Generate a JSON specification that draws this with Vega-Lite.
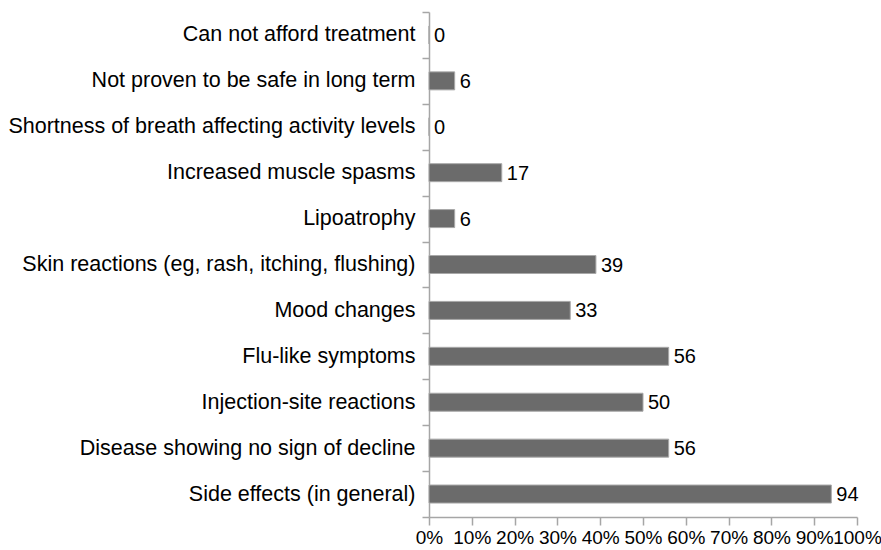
{
  "$schema": "https://vega.github.io/schema/vega-lite/v6.json",
  "autosize": "none",
  "width": 428,
  "height": 505,
  "padding": {"left": 429, "top": 12, "right": 24, "bottom": 33},
  "background": "white",
  "config": {
    "view": {"stroke": null},
    "font": "Liberation Sans"
  },
  "data": {
    "values": [
      {"reason": "Can not afford treatment", "pct": 0, "order": 1},
      {"reason": "Not proven to be safe in long term", "pct": 6, "order": 2},
      {"reason": "Shortness of breath affecting activity levels", "pct": 0, "order": 3},
      {"reason": "Increased muscle spasms", "pct": 17, "order": 4},
      {"reason": "Lipoatrophy", "pct": 6, "order": 5},
      {"reason": "Skin reactions (eg, rash, itching, flushing)", "pct": 39, "order": 6},
      {"reason": "Mood changes", "pct": 33, "order": 7},
      {"reason": "Flu-like symptoms", "pct": 56, "order": 8},
      {"reason": "Injection-site reactions", "pct": 50, "order": 9},
      {"reason": "Disease showing no sign of decline", "pct": 56, "order": 10},
      {"reason": "Side effects (in general)", "pct": 94, "order": 11}
    ]
  },
  "encoding": {
    "y": {
      "field": "reason",
      "type": "nominal",
      "sort": {"field": "order", "order": "ascending"},
      "scale": {"paddingInner": 0, "paddingOuter": 0},
      "axis": {
        "title": null,
        "tickBand": "extent",
        "domainColor": "#a6a6a6",
        "tickColor": "#a6a6a6",
        "domainWidth": 1.5,
        "tickWidth": 1.5,
        "tickSize": 7,
        "labelPadding": 7,
        "labelFontSize": 21.5,
        "labelColor": "#000000",
        "labelLimit": 0
      }
    },
    "x": {
      "field": "pct",
      "type": "quantitative",
      "scale": {"domain": [0, 100], "nice": false},
      "axis": {
        "title": null,
        "values": [0, 10, 20, 30, 40, 50, 60, 70, 80, 90, 100],
        "labelExpr": "datum.value + '%'",
        "grid": false,
        "domainColor": "#a6a6a6",
        "tickColor": "#a6a6a6",
        "domainWidth": 1.5,
        "tickWidth": 1.5,
        "tickSize": 8,
        "labelPadding": 3,
        "labelFontSize": 19,
        "labelColor": "#000000",
        "labelFlush": false,
        "labelOverlap": false
      }
    }
  },
  "layer": [
    {
      "mark": {"type": "bar", "size": 18, "color": "#6b6b6b", "stroke": "#a8a8a8", "strokeWidth": 1}
    },
    {
      "mark": {"type": "text", "align": "left", "baseline": "middle", "dx": 5, "dy": 1, "fontSize": 20, "color": "#000000"},
      "encoding": {"text": {"field": "pct", "type": "quantitative"}}
    }
  ]
}
